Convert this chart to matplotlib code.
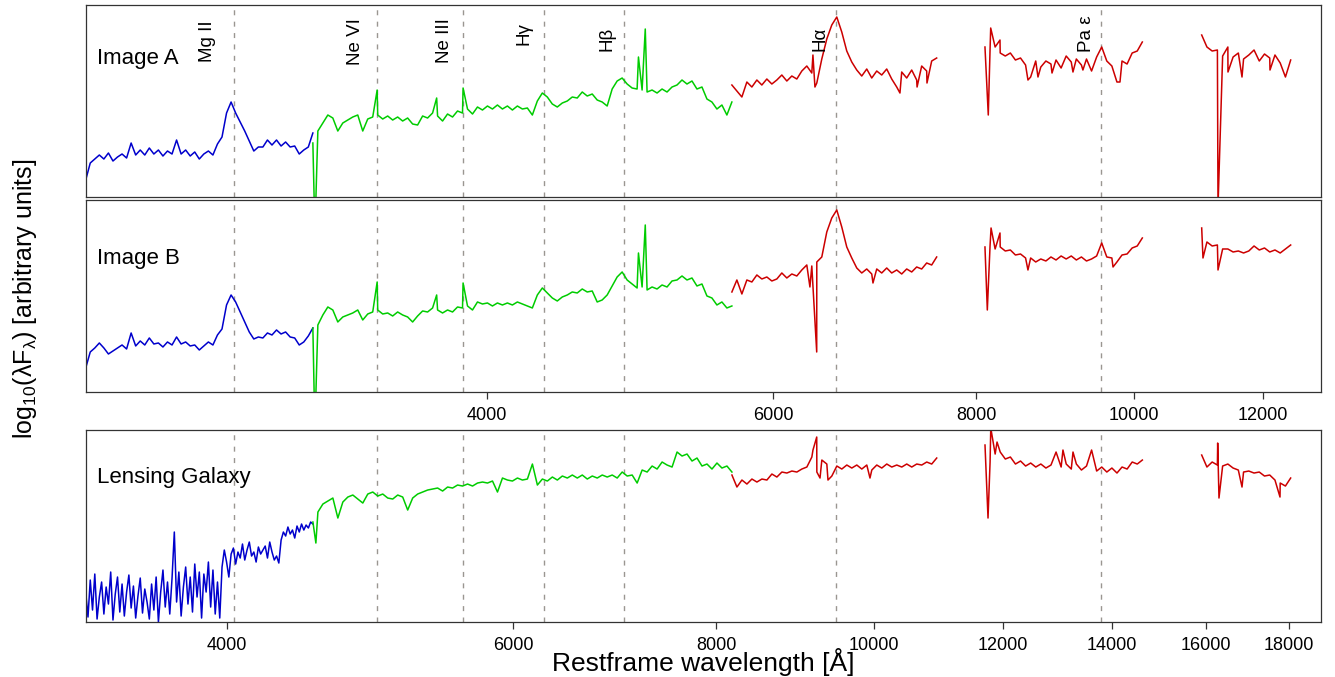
import numpy as np
import matplotlib
matplotlib.use('Agg')
import matplotlib.pyplot as plt
from matplotlib.ticker import NullLocator

plt.rcParams['font.family'] = ['Liberation Sans', 'DejaVu Sans']
plt.rcParams['mathtext.fontset'] = 'custom'
plt.rcParams['mathtext.rm'] = 'Liberation Sans'

# wavelength ranges of the five spectrograph arms (quasar rest frame, Angstrom)
qso_edges = [(2268, 3128), (3128, 5660), (5660, 7563), (8098, 10118), (11005, 12482)]
# same arms in the lens rest frame
lens_edges = [(3277, 4520), (4520, 8179), (8179, 10929), (11702, 14621), (15902, 18036)]
arm_colors = ['#0000cc', '#00cc00', '#cc0000', '#cc0000', '#cc0000']

# (1 + z_qso) / (1 + z_lens)
frame_ratio = 1.445

# log flux (arbitrary units), sampled evenly in log wavelength per arm
a_blue = [17, 34, 38, 42, 38, 44, 36, 40, 43, 39,
          54, 42, 47, 42, 49, 43, 47, 41, 46, 43,
          57, 43, 47, 41, 45, 38, 43, 46, 42, 53,
          60, 84, 95, 84, 75, 66, 56, 46, 50, 50,
          57, 52, 57, 51, 55, 50, 51, 43, 47, 50,
          64]
a_green = [54, 66, 74, 82, 79, 66, 74, 77, 80, 82,
           66, 78, 80, 82, 78, 81, 77, 80, 76, 79,
           73, 72, 81, 79, 84, 81, 76, 83, 80, 86,
           84, 88, 83, 90, 87, 91, 88, 92, 88, 91,
           87, 91, 88, 89, 82, 96, 104, 100, 93, 90,
           94, 96, 100, 99, 105, 101, 103, 97, 95, 91,
           108, 116, 119, 113, 109, 108, 107, 105, 107, 104,
           108, 105, 110, 112, 117, 113, 116, 108, 110, 98,
           95, 88, 92, 82, 95]
a_red1 = [112, 106, 100, 115, 110, 117, 112, 118, 113, 117,
          122, 116, 121, 118, 126, 131, 124, 114, 138, 158,
          172, 180, 165, 146, 135, 127, 121, 128, 119, 126,
          122, 128, 118, 110, 125, 119, 127, 117, 131, 126,
          136, 139]
a_red2 = [150, 147, 150, 144, 141, 144, 137, 139, 132, 120,
          136, 130, 136, 133, 137, 129, 141, 135, 138, 132,
          138, 126, 140, 150, 136, 131, 115, 136, 133, 144,
          146, 155]
a_red3 = [162, 150, 146, 147, 141, 150, 140, 144, 138, 142,
          147, 136, 143, 139, 142, 134, 120, 137]
# narrow lines, spikes and dropouts: (wavelength, value)
a_spikes = [(3134, -5), (3141, -5), (3426, 107), (3727, 99), (3869, 109),
            (4959, 140), (5007, 168), (6348, 142), (6366, 110), (7180, 104),
            (7356, 110), (7460, 114), (8136, 82), (8164, 169), (8272, 157),
            (8606, 117), (8729, 120), (8904, 124), (9172, 125), (9302, 127),
            (9803, 115), (11262, -10), (11422, 125), (11651, 120), (12122, 127)]

b_blue = [24, 40, 44, 49, 44, 38, 41, 44, 47, 43,
          59, 46, 51, 47, 54, 48, 49, 45, 50, 47,
          55, 48, 50, 46, 47, 42, 46, 50, 47, 57,
          63, 87, 97, 90, 80, 70, 60, 53, 55, 54,
          59, 57, 62, 58, 60, 55, 54, 47, 50, 56,
          64]
b_green = [64, 67, 77, 85, 82, 70, 75, 77, 79, 82,
           72, 78, 80, 82, 78, 79, 76, 80, 77, 75,
           70, 76, 81, 80, 84, 82, 79, 82, 80, 85,
           84, 86, 82, 90, 88, 89, 86, 89, 87, 89,
           87, 90, 88, 86, 84, 97, 104, 99, 94, 91,
           95, 97, 100, 99, 103, 100, 101, 90, 92, 97,
           106, 115, 120, 112, 108, 104, 105, 102, 105, 103,
           107, 105, 111, 112, 116, 112, 114, 106, 108, 96,
           94, 87, 90, 84, 86]
b_red1 = [100, 112, 98, 112, 110, 117, 113, 115, 111, 113,
          119, 114, 118, 116, 122, 127, 126, 130, 135, 160,
          174, 182, 165, 145, 134, 124, 119, 123, 118, 123,
          119, 124, 119, 122, 118, 123, 120, 125, 123, 129,
          127, 135]
b_red2 = [145, 146, 143, 145, 141, 142, 137, 138, 134, 134,
          130, 133, 131, 135, 132, 136, 133, 136, 132, 135,
          131, 133, 136, 149, 135, 134, 130, 137, 138, 144,
          146, 154]
b_red3 = [164, 150, 146, 147, 143, 143, 140, 141, 139, 141,
          146, 142, 144, 140, 142, 139, 143, 147]
b_spikes = [(3134, -5), (3141, -5), (3426, 110), (3727, 97), (3869, 109),
            (4959, 139), (5007, 167), (6321, 105), (6382, 40), (6911, 109),
            (8125, 82), (8168, 164), (8272, 159), (8606, 122), (9707, 125),
            (11025, 134), (11262, 122)]

# the lens blue arm is noisy, so it is sampled twice as finely
c_blue = [30, 5, 42, 12, 48, 3, 25, 40, 8, 35,
          18, 50, 2, 28, 45, 10, 38, 6, 30, 47,
          14, 36, 4, 26, 44, 9, 33, 20, 3, 38,
          12, 45, 0, 30, 52, 15, 40, 8, 44, 90,
          20, 50, 6, 35, 55, 18, 45, 10, 58, 25,
          50, 4, 48, 30, 60, 15, 52, 8, 40, 4,
          55, 72, 60, 45, 68, 74, 58, 70, 64, 78,
          62, 72, 80, 66, 70, 60, 75, 68, 72, 76,
          64, 80, 70, 62, 66, 59, 82, 90, 86, 95,
          88, 92, 84, 96, 90, 98, 92, 97, 94, 100,
          98]
c_green = [100, 110, 118, 121, 124, 104, 120, 125, 127, 123,
           119, 128, 130, 126, 128, 124, 123, 127, 125, 112,
           124, 128, 130, 132, 133, 134, 131, 135, 134, 137,
           136, 138, 136, 139, 140, 139, 141, 130, 144, 142,
           141, 144, 142, 143, 158, 137, 143, 141, 145, 142,
           146, 144, 147, 144, 147, 143, 146, 144, 147, 145,
           147, 144, 150, 146, 147, 139, 152, 150, 156, 153,
           160, 157, 155, 170, 166, 168, 161, 164, 156, 158,
           153, 159, 154, 156, 150]
c_red1 = [147, 135, 142, 138, 143, 140, 143, 142, 148, 145,
          150, 149, 151, 150, 153, 155, 165, 150, 162, 158,
          146, 156, 153, 157, 154, 157, 153, 157, 152, 157,
          154, 158, 155, 157, 155, 158, 155, 158, 157, 160,
          158, 164]
c_red2 = [177, 160, 168, 170, 163, 165, 158, 161, 156, 159,
          155, 158, 154, 157, 170, 155, 158, 153, 158, 152,
          156, 172, 151, 155, 150, 154, 149, 155, 153, 160,
          158, 162]
c_red3 = [167, 155, 160, 157, 156, 158, 154, 152, 150, 151,
          149, 150, 146, 147, 142, 139, 136, 144]
c_spikes = [(4539, 79), (9173, 172), (9222, 185), (9265, 144),
            (9370, 142), (9944, 144), (11752, 104), (11798, 194), (11903, 180),
            (13067, 172), (13254, 170), (16266, 179), (16296, 124), (16836, 135),
            (17766, 125)]

# quasar emission lines
line_names = ['Mg II', 'Ne VI', 'Ne III', 'Hγ', 'Hβ', 'Hα', 'Pa ε']
line_waves = [2798, 3426, 3869, 4340, 4861, 6563, 9546]
label_waves = [2696, 3324, 3771, 4217, 4742, 6412, 9355]
label_heights = [156, 155.5, 156.5, 163, 158.5, 158, 163.5]

qso_ticks = [4000, 6000, 8000, 10000, 12000]
lens_ticks = [4000, 6000, 8000, 10000, 12000, 14000, 16000, 18000]


def build(edges, segments, spikes):
    out = []
    for (lo, hi), vals in zip(edges, segments):
        wl = np.geomspace(lo, hi, len(vals))
        fl = np.asarray(vals, dtype=float)
        extra = [(w, f) for w, f in spikes if lo < w < hi]
        if extra:
            ew, ef = zip(*extra)
            wl = np.concatenate([wl, ew])
            fl = np.concatenate([fl, ef])
            order = np.argsort(wl)
            wl, fl = wl[order], fl[order]
        out.append((wl, fl))
    return out


fig = plt.figure(figsize=(13.35, 6.77), dpi=100)
axA = fig.add_axes([0.0642, 0.7090, 0.9253, 0.2836])
axB = fig.add_axes([0.0642, 0.4210, 0.9253, 0.2836])
axC = fig.add_axes([0.0642, 0.0812, 0.9253, 0.2836])

panels = [
    (axA, build(qso_edges, [a_blue, a_green, a_red1, a_red2, a_red3], a_spikes),
     1.0, (2268, 13029), 'Image A', 0.719),
    (axB, build(qso_edges, [b_blue, b_green, b_red1, b_red2, b_red3], b_spikes),
     1.0, (2268, 13029), 'Image B', 0.693),
    (axC, build(lens_edges, [c_blue, c_green, c_red1, c_red2, c_red3], c_spikes),
     frame_ratio, (3277, 18827), 'Lensing Galaxy', 0.755),
]

for ax, spec, scale, xlim, name, ny in panels:
    ax.set_xscale('log')
    for w in line_waves:
        ax.axvline(w * scale, color='#9a9691', lw=1.0, dashes=(3.6, 4.6), zorder=1)
    for (wl, fl), col in zip(spec, arm_colors):
        ax.plot(wl, fl, color=col, lw=1.1, zorder=2)
    ax.set_xlim(*xlim)
    ax.set_ylim(0, 192)
    ax.set_yticks([])
    ax.xaxis.set_minor_locator(NullLocator())
    for s in ax.spines.values():
        s.set_color('#333333')
        s.set_linewidth(0.9)
    ax.text(0.009, ny, name, transform=ax.transAxes, fontsize=16, va='center')

axA.tick_params(axis='x', bottom=False, labelbottom=False)

for ax, ticks in [(axB, qso_ticks), (axC, lens_ticks)]:
    ax.set_xticks(ticks)
    ax.set_xticklabels([str(t) for t in ticks])
    ax.tick_params(axis='x', direction='out', length=5, width=0.9,
                   color='#333333', pad=6, labelsize=13)

for name, lx, ly in zip(line_names, label_waves, label_heights):
    axA.text(lx, ly, name, rotation=90, fontsize=13.5, ha='center', va='center')

fig.text(0.019, 0.558, 'log$_{10}$(λF$_\\mathregular{λ}$) [arbitrary units]',
         rotation=90, fontsize=18, ha='center', va='center')
fig.text(0.5268, 0.0215, 'Restframe wavelength [Å]', fontsize=19,
         ha='center', va='center')

fig.savefig('out.png', dpi=100)
